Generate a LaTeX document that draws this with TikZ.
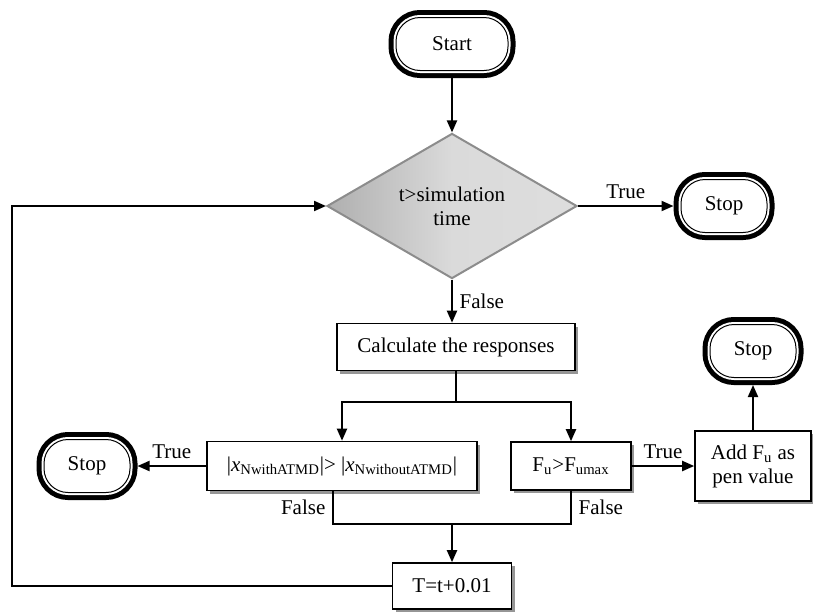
\documentclass[tikz,border=0pt]{standalone}
\usepackage{fontspec}
\setmainfont{Liberation Serif}
\usetikzlibrary{shapes.geometric, arrows.meta, positioning, calc, shadows}
\definecolor{diaedge}{RGB}{140, 140, 140}
\definecolor{diadark}{RGB}{175, 175, 175}
\definecolor{dialight}{RGB}{218, 218, 218}
\definecolor{shadowgray}{RGB}{150, 150, 150}
\tikzset{
  >=Triangle,
  flowarrow/.style={-{Triangle[length=6pt, width=5pt]}, line width=1pt, black},
  flowline/.style={line width=1pt, black}
}

\begin{document}
\begin{tikzpicture}[
    x=0.5pt, y=-0.5pt,
    font=\fontsize{10.5}{12}\selectfont,
    terminal/.style={rectangle, rounded corners=12pt, draw=black, line width=0.5pt, fill=white, minimum width=43pt, minimum height=26.5pt, inner sep=0pt, outer sep=3.75pt, preaction={draw=black, line width=7.5pt}, preaction={draw=white, line width=2.5pt}},
    decision/.style={diamond, draw=diaedge, line width=1pt, left color=diadark, right color=dialight!90, middle color=dialight, minimum width=125pt, minimum height=68pt, inner sep=0pt, align=center},
    process/.style={rectangle, draw=black, line width=0.8pt, fill=white, drop shadow={shadow xshift=1.6pt, shadow yshift=-1.6pt, fill=shadowgray, opacity=1}, inner sep=2pt, align=center}
]
    \useasboundingbox (0,0) rectangle (813,611);

    % Nodes
    \node[terminal, minimum width=56pt] (start) at (452,44) {Start};
    \node[decision] (dec) at (452,206) {t>simulation\\time};
    \node[terminal] (stopR) at (724,206) {Stop};
    \node[process, minimum width=119pt, minimum height=23.5pt] (calc) at (456,347) {Calculate the responses};
    \node[process, minimum width=135pt, minimum height=24.5pt] (cmp) at (342,466) {\textbar\textit{x}\textsubscript{NwithATMD}\textbar> \textbar\textit{x}\textsubscript{NwithoutATMD}\textbar};
    \node[terminal] (stopL) at (87,466) {Stop};
    \node[process, minimum width=60pt, minimum height=24pt] (fu) at (571,466) {F\textsubscript{u}>F\textsubscript{umax}};
    \node[process, minimum width=58pt, minimum height=35pt] (add) at (753,466) {Add F\textsubscript{u} as\\pen value};
    \node[terminal] (stopT) at (753,351) {Stop};
    \node[process, minimum width=59.5pt, minimum height=23pt] (tstep) at (452,586) {T=t+0.01};

    \coordinate (split) at ($(calc.south)+(0,31)$);
    \coordinate (merge) at (tstep.north |- 0,524);
    \coordinate (loop) at (12,400);

    % Arrows
    \draw[flowarrow] (start) -- (dec);
    \draw[flowarrow] (dec) -- node[above] {True} (stopR);
    \draw[flowarrow] (dec.south) -- node[right] {False} (dec.south |- calc.north);
    \draw[flowline] (calc.south) -- (split);
    \draw[flowarrow] (split) -| (cmp);
    \draw[flowarrow] (split) -| (fu);
    \draw[flowarrow] (cmp) -- node[above] {True} (stopL);
    \draw[flowarrow] (fu) -- node[above] {True} (add);
    \draw[flowarrow] (add) -- (stopT);
    \draw[flowline] ([xshift=-4.5pt]cmp.south) |- node[pos=0.25, left] {False} (merge);
    \draw[flowline] (merge) -| node[pos=0.75, right] {False} (fu.south);
    \draw[flowarrow] (merge) -- (tstep);
    \draw[flowarrow] (tstep.west) -| (loop) |- (dec.west);
\end{tikzpicture}
\end{document}
